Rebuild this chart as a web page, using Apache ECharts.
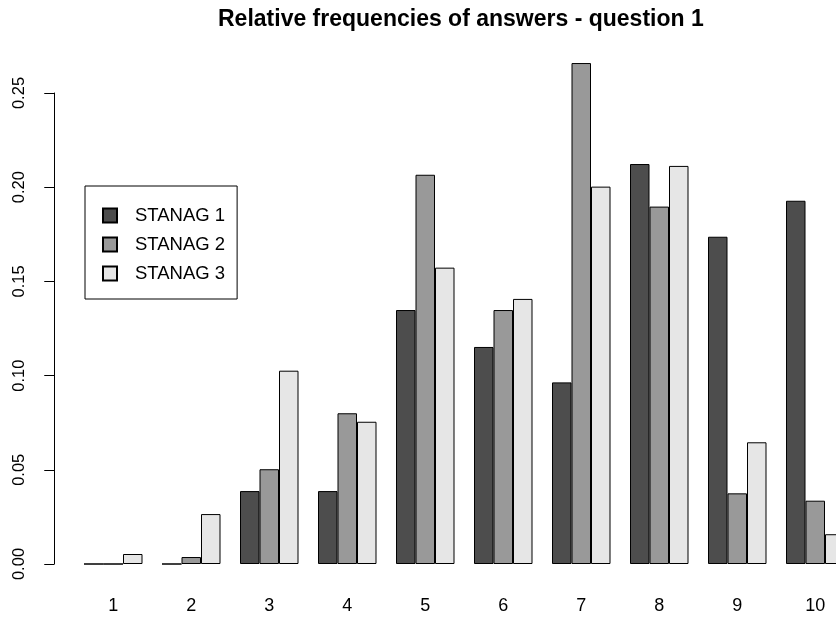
<!DOCTYPE html>
<html>
<head>
<meta charset="utf-8">
<script src="https://cdn.jsdelivr.net/npm/echarts@6/dist/echarts.min.js"></script>
<style>
  html, body { margin: 0; padding: 0; background: #fff; }
  #chart { width: 836px; height: 619px; }
</style>
</head>
<body>
<div id="chart"></div>
<script>
// answers 1..10, relative frequency for each STANAG level
const categories = ["1", "2", "3", "4", "5", "6", "7", "8", "9", "10"];
const stanag1 = [0, 0, 0.0387, 0.0387, 0.1348, 0.1152, 0.0964, 0.2123, 0.1737, 0.1928];
const stanag2 = [0, 0.0037, 0.0503, 0.0800, 0.2066, 0.1348, 0.2659, 0.1897, 0.0375, 0.0336];
const stanag3 = [0.0053, 0.0265, 0.1026, 0.0755, 0.1573, 0.1407, 0.2003, 0.2113, 0.0646, 0.0158];
const yTicks = [0, 0.05, 0.10, 0.15, 0.20, 0.25];

const font = "'Liberation Sans', Arial, sans-serif";
const chart = echarts.init(document.getElementById("chart"));

function barSeries(name, data, color) {
  return {
    name: name,
    type: "bar",
    data: data,
    clip: false,
    barGap: "0%",
    barCategoryGap: "25%",
    itemStyle: { color: color, borderColor: "#000", borderWidth: 1 },
    emphasis: { disabled: true },
  };
}

chart.setOption({
  animation: false,
  backgroundColor: "#fff",
  title: {
    text: "Relative frequencies of answers - question 1",
    left: 213,
    top: 3,
    textStyle: { fontFamily: font, fontSize: 23, fontWeight: "bold", color: "#000" },
  },
  legend: {
    orient: "vertical",
    left: 85,
    top: 186,
    padding: [20, 12, 16, 17],
    itemGap: 10,
    itemWidth: 14,
    itemHeight: 14,
    icon: "rect",
    borderColor: "#000",
    borderWidth: 1,
    textStyle: { fontFamily: font, fontSize: 18.5, color: "#000", lineHeight: 14, padding: [0, 0, 0, 13] },
    data: ["STANAG 1", "STANAG 2", "STANAG 3"],
  },
  // the last group runs past the right edge, as in the original
  grid: { left: 74.25, top: 93, width: 780, height: 471, outerBoundsMode: "none" },
  xAxis: {
    type: "category",
    data: categories,
    axisLine: { show: false },
    axisTick: { show: false },
    axisLabel: { margin: 33, fontFamily: font, fontSize: 18, color: "#000" },
  },
  yAxis: {
    type: "value",
    min: yTicks[0],
    max: yTicks[yTicks.length - 1],
    interval: 0.05,
    offset: 20,
    splitLine: { show: false },
    axisLine: { show: true, lineStyle: { color: "#000", width: 1 } },
    axisTick: { show: true, length: 10, lineStyle: { color: "#000" } },
    axisLabel: {
      rotate: 90,
      margin: 26,
      fontFamily: font,
      fontSize: 16.5,
      color: "#000",
      formatter: (v) => v.toFixed(2),
    },
  },
  series: [
    barSeries("STANAG 1", stanag1, "#4d4d4d"),
    barSeries("STANAG 2", stanag2, "#999999"),
    barSeries("STANAG 3", stanag3, "#e6e6e6"),
  ],
});
</script>
</body>
</html>
